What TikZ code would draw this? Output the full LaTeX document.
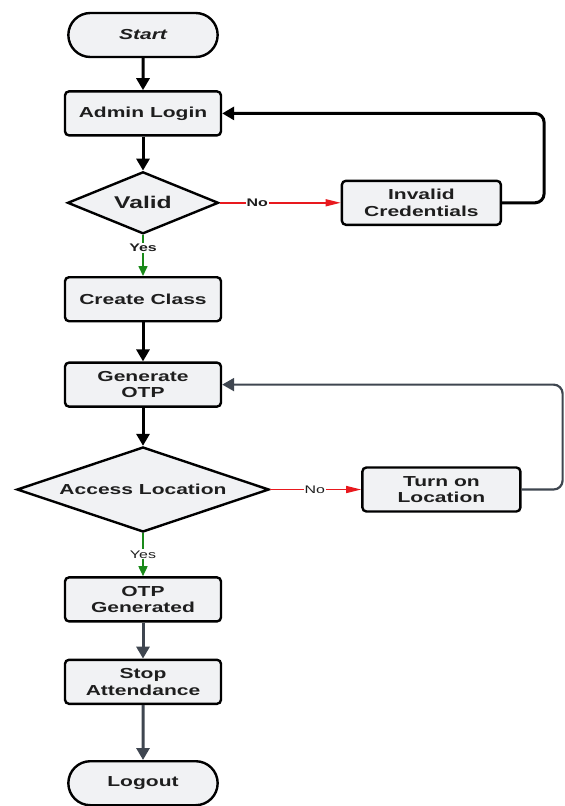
\documentclass[tikz,border=0pt]{standalone}
\usepackage{fontspec}
\setmainfont[FakeStretch=1.45]{Liberation Sans}
\usetikzlibrary{positioning,shapes.geometric,shapes.misc,arrows.meta}

\definecolor{boxgray}{HTML}{F1F2F4}
\definecolor{slate}{HTML}{3F4650}
\definecolor{nored}{HTML}{E8191E}
\definecolor{yesgreen}{HTML}{1A8A1A}
\definecolor{inkblack}{HTML}{1E1E1E}

\begin{document}
\begin{tikzpicture}[
  x=1pt, y=1pt,
  font=\bfseries\fontsize{14.5}{16.5}\selectfont,
  text=inkblack,
  terminal/.style={
    rounded rectangle, draw, line width=2.4pt, fill=boxgray,
    minimum width=156pt, minimum height=44pt,
  },
  process/.style={
    rectangle, rounded corners=4pt, draw, line width=2.4pt, fill=boxgray,
    minimum width=156pt, minimum height=44pt, align=center,
  },
  decision/.style={
    diamond, draw, line width=2.4pt, fill=boxgray, inner sep=0pt, aspect=2.6,
  },
  flow/.style={line width=3pt, -{Triangle[length=12pt,width=13pt]}},
  darkflow/.style={flow, slate},
  noflow/.style={line width=1.4pt, nored, -{Triangle[length=15pt,width=7pt]}},
  yesflow/.style={line width=1.6pt, yesgreen, -{Triangle[length=10pt,width=9pt]}},
  answer/.style={fill=white, text=inkblack, inner sep=1pt, font=\bfseries\fontsize{11}{12}\selectfont},
  plainanswer/.style={answer, font=\fontsize{11}{12}\selectfont},
  ]
  \useasboundingbox (0,0) rectangle (565,-806);

  % main column
  \node [terminal] (start) at (143,-35) {\itshape Start};
  \node [process, below=32pt of start] (login) {Admin Login};
  \node [decision, below=34pt of login, minimum width=151pt, minimum height=62pt,
    font=\bfseries\fontsize{17}{19}\selectfont] (valid) {Valid};
  \node [process, below=41pt of valid] (create) {Create Class};
  \node [process, below=39pt of create] (genotp) {Generate\\OTP};
  \node [decision, below=38pt of genotp, minimum width=252pt, minimum height=85pt] (access) {Access Location};
  \node [process, below=43pt of access] (otpgen) {OTP\\Generated};
  \node [process, below=36pt of otpgen] (stopatt) {Stop\\Attendance};
  \node [terminal, below=55pt of stopatt] (logout) {Logout};

  % side branches
  \node [process, right=121pt of valid, minimum width=159pt] (invalid) {Invalid\\Credentials};
  \node [process, right=91pt of access, minimum width=158pt] (turnon) {Turn on\\Location};

  \draw [flow] (start) -- (login);
  \draw [flow] (login) -- (valid);
  \draw [yesflow] (valid) -- node [answer, pos=0.32] {Yes} (create);
  \draw [noflow] (valid) -- node [answer, pos=0.31] {No} (invalid);
  \draw [flow, rounded corners=9pt] (invalid.east) -- ++(42,0) |- (login.east);
  \draw [flow] (create) -- (genotp);
  \draw [flow] (genotp) -- (access);
  \draw [noflow] (access) -- node [plainanswer, pos=0.49] {No} (turnon);
  \draw [flow, slate, line width=2.2pt, rounded corners=9pt] (turnon.east) -- ++(41,0) |- (genotp.east);
  \draw [yesflow] (access) -- node [plainanswer, pos=0.49] {Yes} (otpgen);
  \draw [darkflow] (otpgen) -- (stopatt);
  \draw [darkflow] (stopatt) -- (logout);
\end{tikzpicture}
\end{document}
